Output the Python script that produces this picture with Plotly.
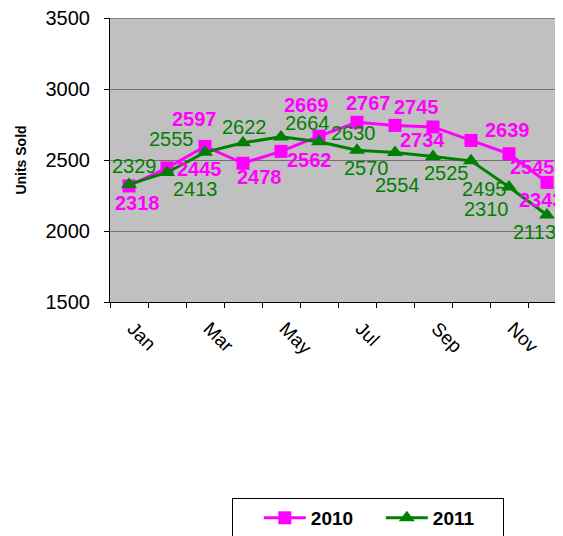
import plotly.graph_objects as go

months = ["Jan", "Feb", "Mar", "Apr", "May", "Jun", "Jul", "Aug", "Sep", "Oct", "Nov", "Dec"]
tick_labels = ["Jan", "", "Mar", "", "May", "", "Jul", "", "Sep", "", "Nov", ""]
y_ticks = [1500, 2000, 2500, 3000, 3500]
sales_2010 = [2318, 2445, 2597, 2478, 2562, 2669, 2767, 2745, 2734, 2639, 2545, 2343]
sales_2011 = [2329, 2413, 2555, 2622, 2664, 2630, 2570, 2554, 2525, 2495, 2310, 2113]

# data-label pixel offsets (dx right, dy down) relative to each marker
off_2010 = [(8, 16), (32, 0), (-11, -28), (16, 13), (28, 8), (-13, -32),
            (11, -20), (21, -19), (-11, 12), (36, -11), (23, 12), (-6, 17)]
off_2011 = [(5, -19), (28, 16), (-34, -14), (1, -17), (26, -15), (34, -10),
            (9, 17), (2, 32), (13, 15), (13, 27), (-23, 21), (-13, 16)]

PINK = "#FF00FF"
GREEN = "#008000"
GRID = "#707070"
FONT = "Liberation Sans, Arial, sans-serif"

fig = go.Figure()
fig.add_trace(go.Scatter(x=months, y=sales_2010, name="<b>2010</b>", mode="lines+markers",
                         line=dict(color=PINK, width=3),
                         marker=dict(symbol="square", size=13, color=PINK)))
fig.add_trace(go.Scatter(x=months, y=sales_2011, name="<b>2011</b>", mode="lines+markers",
                         line=dict(color=GREEN, width=3),
                         marker=dict(symbol="triangle-up", size=14, color=GREEN)))

annotations = []
for m, v, (dx, dy) in zip(months, sales_2010, off_2010):
    annotations.append(dict(x=m, y=v, xref="x", yref="y", text=f"<b>{v}</b>", showarrow=False,
                            xshift=dx, yshift=-dy - 1, font=dict(family=FONT, size=20, color=PINK)))
for m, v, (dx, dy) in zip(months, sales_2011, off_2011):
    annotations.append(dict(x=m, y=v, xref="x", yref="y", text=f"{v}", showarrow=False,
                            xshift=dx, yshift=-dy - 1, font=dict(family=FONT, size=20, color=GREEN)))

fig.update_layout(
    template="none",
    width=563, height=536,
    margin=dict(l=102, r=5, t=10, b=242, autoexpand=False),
    paper_bgcolor="white",
    plot_bgcolor="#C0C0C0",
    font=dict(family=FONT, size=19, color="black"),
    showlegend=True,
    legend=dict(orientation="h", x=0.2675, xanchor="left", y=-0.69, yanchor="top",
                bordercolor="black", borderwidth=1, bgcolor="white",
                itemwidth=42, entrywidth=65, entrywidthmode="pixels", traceorder="normal",
                title=dict(text="&nbsp;&nbsp;&nbsp;", side="left",
                           font=dict(family=FONT, size=19)),
                font=dict(family=FONT, size=19, color="black")),
    annotations=annotations,
    shapes=[dict(type="line", xref="paper", x0=0, x1=1, yref="y", y0=y_ticks[-1], y1=y_ticks[-1],
                 line=dict(color=GRID, width=1), layer="below")],
    xaxis=dict(type="category", categoryorder="array", categoryarray=months,
               range=[-0.5, 11.5], tickmode="array", tickvals=months, ticktext=tick_labels,
               tickson="boundaries", ticks="outside", ticklen=5, tickcolor="black",
               tickangle=45, showline=True, linecolor="black", linewidth=1,
               showgrid=False, zeroline=False, automargin=False,
               ticklabelstandoff=7, ticklabelshift=4, ticklabeloverflow="allow",
               tickfont=dict(family=FONT, size=19)),
    yaxis=dict(range=[1500, 3502], tickmode="array", tickvals=y_ticks,
               ticks="outside", ticklen=5,
               tickcolor="black", showline=True, linecolor="black", linewidth=1,
               showgrid=True, gridcolor=GRID, gridwidth=1, zeroline=False,
               automargin=False, ticklabelstandoff=10, ticklabeloverflow="allow",
               tickfont=dict(family=FONT, size=20),
               title=dict(text="<b>Units Sold</b>", standoff=15,
                          font=dict(family=FONT, size=14))),
)

fig.write_html("out.html")
